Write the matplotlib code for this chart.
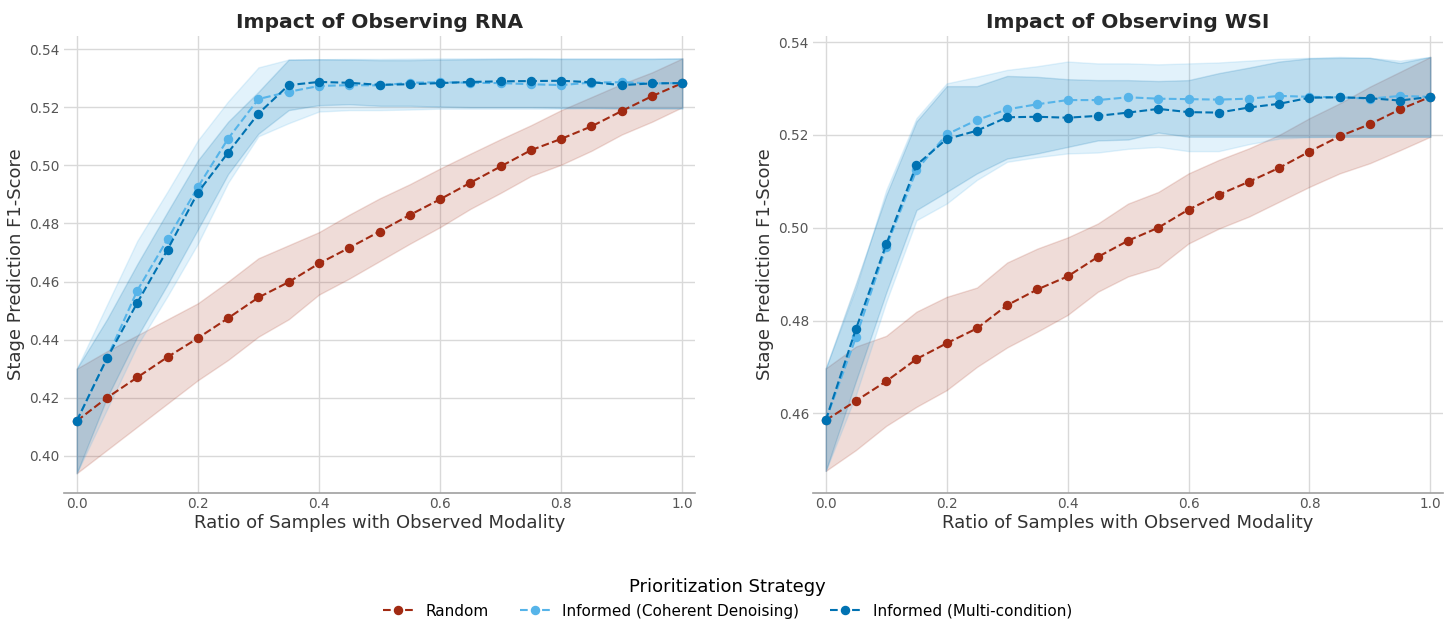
import matplotlib
matplotlib.use("Agg")
import matplotlib.pyplot as plt

# shared x values (ratio of samples with observed modality)
ratios = [0.0, 0.05, 0.10, 0.15, 0.20, 0.25, 0.30, 0.35, 0.40, 0.45, 0.50,
          0.55, 0.60, 0.65, 0.70, 0.75, 0.80, 0.85, 0.90, 0.95, 1.0]

strategies = ["Random", "Informed (Coherent Denoising)", "Informed (Multi-condition)"]
colors = ["#a12a12", "#56b4e9", "#0072b2"]

# --- RNA panel ---
rna_random = [0.412, 0.420, 0.427, 0.434, 0.4405, 0.4474, 0.4545, 0.4598, 0.4662, 0.4716, 0.4772,
              0.4829, 0.4883, 0.4940, 0.4996, 0.5052, 0.5091, 0.5134, 0.5187, 0.5238, 0.5283]
rna_random_lo = [0.394, 0.402, 0.410, 0.418, 0.426, 0.433, 0.441, 0.447, 0.4555, 0.461, 0.467,
                 0.473, 0.4787, 0.485, 0.4905, 0.4963, 0.5002, 0.505, 0.5106, 0.515, 0.520]
rna_random_hi = [0.430, 0.436, 0.4415, 0.447, 0.4525, 0.460, 0.468, 0.4725, 0.477, 0.483, 0.4886,
                 0.4935, 0.4989, 0.504, 0.509, 0.5138, 0.519, 0.5235, 0.528, 0.532, 0.5368]

rna_coh = [0.412, 0.4336, 0.4569, 0.4746, 0.4925, 0.5092, 0.5228, 0.5253, 0.5273, 0.5276, 0.5275,
           0.5284, 0.5286, 0.5284, 0.5283, 0.5279, 0.5276, 0.5285, 0.5286, 0.5282, 0.5283]
rna_coh_lo = [0.394, 0.416, 0.438, 0.455, 0.473, 0.494, 0.510, 0.5145, 0.5185, 0.519, 0.519,
              0.5192, 0.5195, 0.5195, 0.5195, 0.5195, 0.5195, 0.5196, 0.5196, 0.5196, 0.5196]
rna_coh_hi = [0.430, 0.452, 0.474, 0.491, 0.5086, 0.522, 0.5337, 0.5364, 0.5365, 0.5366, 0.5366,
              0.5367, 0.5368, 0.5368, 0.5368, 0.5369, 0.5368, 0.5368, 0.5368, 0.5368, 0.5368]

rna_multi = [0.412, 0.4336, 0.4527, 0.4710, 0.4906, 0.5044, 0.5178, 0.5276, 0.5287, 0.5284, 0.5277,
             0.5279, 0.5283, 0.5287, 0.5289, 0.5290, 0.5291, 0.5286, 0.5276, 0.5282, 0.5283]
rna_multi_lo = [0.394, 0.420, 0.441, 0.459, 0.4779, 0.497, 0.5109, 0.519, 0.5207, 0.521, 0.5205,
                0.5205, 0.5202, 0.5200, 0.5200, 0.5200, 0.5198, 0.5198, 0.5196, 0.5196, 0.5196]
rna_multi_hi = [0.430, 0.447, 0.466, 0.484, 0.5017, 0.515, 0.5253, 0.5364, 0.5365, 0.5364, 0.5362,
                0.5362, 0.5364, 0.5365, 0.5366, 0.5366, 0.5366, 0.5366, 0.5366, 0.5366, 0.5368]

# --- WSI panel ---
wsi_random = [0.4585, 0.4627, 0.4669, 0.4717, 0.4751, 0.4783, 0.4833, 0.4867, 0.4895, 0.4937, 0.4972,
              0.5000, 0.5039, 0.5071, 0.5099, 0.5129, 0.5164, 0.5197, 0.5223, 0.5255, 0.5282]
wsi_random_lo = [0.4476, 0.4521, 0.4573, 0.4614, 0.4650, 0.4700, 0.4742, 0.4776, 0.4812, 0.4862, 0.4895,
                 0.4915, 0.4966, 0.4998, 0.5024, 0.5056, 0.5088, 0.5117, 0.5139, 0.5167, 0.5196]
wsi_random_hi = [0.4697, 0.4744, 0.4767, 0.4819, 0.4851, 0.4871, 0.4925, 0.4955, 0.4979, 0.5009, 0.5052,
                 0.5077, 0.5117, 0.5146, 0.5171, 0.5200, 0.5236, 0.5268, 0.5304, 0.5336, 0.5368]

wsi_coh = [0.4585, 0.4764, 0.4959, 0.5124, 0.5201, 0.5232, 0.5255, 0.5266, 0.5275, 0.5275, 0.5281,
           0.5278, 0.5277, 0.5276, 0.5278, 0.5284, 0.5282, 0.5281, 0.5278, 0.5284, 0.5282]
wsi_coh_lo = [0.4476, 0.4640, 0.4840, 0.5016, 0.5052, 0.5103, 0.5142, 0.5152, 0.5160, 0.5162, 0.5170,
              0.5174, 0.5165, 0.5165, 0.5180, 0.5192, 0.5195, 0.5196, 0.5196, 0.5196, 0.5196]
wsi_coh_hi = [0.4697, 0.4870, 0.5081, 0.5236, 0.5311, 0.5325, 0.5340, 0.5348, 0.5358, 0.5354, 0.5354,
              0.5352, 0.5354, 0.5356, 0.5360, 0.5364, 0.5366, 0.5368, 0.5366, 0.5360, 0.5368]

wsi_multi = [0.4585, 0.4782, 0.4964, 0.5135, 0.5191, 0.5209, 0.5238, 0.5239, 0.5237, 0.5241, 0.5248,
             0.5256, 0.5249, 0.5248, 0.5259, 0.5267, 0.5280, 0.5281, 0.5279, 0.5274, 0.5282]
wsi_multi_lo = [0.4476, 0.4670, 0.4860, 0.5038, 0.5077, 0.5117, 0.5149, 0.5160, 0.5174, 0.5188, 0.5190,
                0.5205, 0.5196, 0.5196, 0.5196, 0.5196, 0.5196, 0.5196, 0.5196, 0.5196, 0.5196]
wsi_multi_hi = [0.4697, 0.4880, 0.5070, 0.5229, 0.5305, 0.5305, 0.5327, 0.5325, 0.5320, 0.5318, 0.5318,
                0.5316, 0.5318, 0.5333, 0.5345, 0.5358, 0.5365, 0.5366, 0.5366, 0.5355, 0.5368]

rna_ticks = [0.40, 0.42, 0.44, 0.46, 0.48, 0.50, 0.52, 0.54]
wsi_ticks = [0.46, 0.48, 0.50, 0.52, 0.54]
x_ticks = [0.0, 0.2, 0.4, 0.6, 0.8, 1.0]

panels = [
    ("Impact of Observing RNA",
     [(rna_random, rna_random_lo, rna_random_hi),
      (rna_coh, rna_coh_lo, rna_coh_hi),
      (rna_multi, rna_multi_lo, rna_multi_hi)],
     rna_ticks, (0.3873, 0.5445)),
    ("Impact of Observing WSI",
     [(wsi_random, wsi_random_lo, wsi_random_hi),
      (wsi_coh, wsi_coh_lo, wsi_coh_hi),
      (wsi_multi, wsi_multi_lo, wsi_multi_hi)],
     wsi_ticks, (0.4429, 0.5413)),
]

fill_alpha = [0.16, 0.17, 0.17]

fig = plt.figure(figsize=(14.55, 6.2), dpi=100)
ax_rects = [[0.044, 0.2053, 0.4337, 0.7366], [0.5588, 0.2053, 0.4330, 0.7366]]

handles = []
for rect, (title, series, yticks, ylim) in zip(ax_rects, panels):
    ax = fig.add_axes(rect)
    for i, (mean, lo, hi) in enumerate(series):
        ax.fill_between(ratios, lo, hi, color=colors[i], alpha=fill_alpha[i], linewidth=1, zorder=1)
    for i, (mean, lo, hi) in enumerate(series):
        line, = ax.plot(ratios, mean, color=colors[i], linestyle="--", linewidth=1.5,
                        marker="o", markersize=5.8, label=strategies[i], zorder=3 + i)
        if len(handles) < 3:
            handles.append(line)
    ax.set_title(title, fontsize=14.6, fontweight="bold", color="#262626", pad=6)
    ax.set_xlabel("Ratio of Samples with Observed Modality", fontsize=13, color="#333333", labelpad=2)
    ax.set_ylabel("Stage Prediction F1-Score", fontsize=13, color="#333333", labelpad=3.5)
    ax.set_xticks(x_ticks)
    ax.set_yticks(yticks)
    ax.set_xlim(-0.021, 1.021)
    ax.set_ylim(*ylim)
    ax.grid(True, color="#d9d9d9", linewidth=1)
    ax.set_axisbelow(True)
    for side in ["top", "right", "left"]:
        ax.spines[side].set_visible(False)
    ax.spines["bottom"].set_color("#a0a0a0")
    ax.spines["bottom"].set_linewidth(1.2)
    ax.tick_params(length=0, labelsize=9.8, labelcolor="#555555", pad=3)

fig.legend(handles, strategies, loc="lower center", bbox_to_anchor=(0.5, -0.02), ncol=3,
           frameon=False, fontsize=11, title="Prioritization Strategy", title_fontsize=13)

fig.savefig("out.png")
